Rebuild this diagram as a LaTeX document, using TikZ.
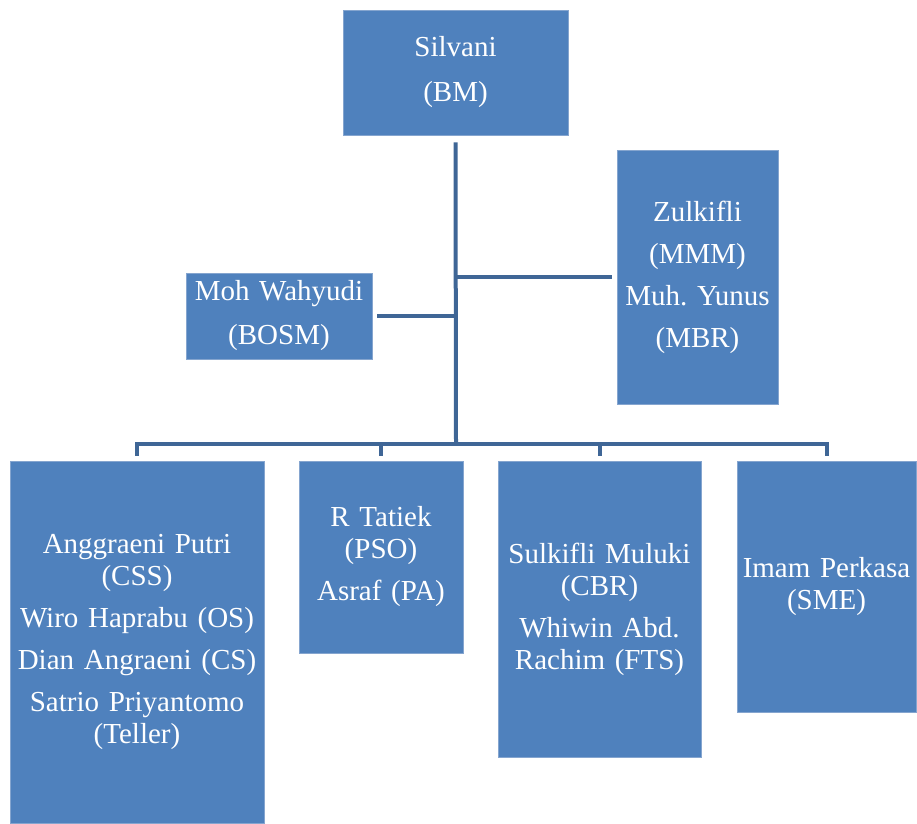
\documentclass[tikz,border=0pt]{standalone}
\usepackage{fontspec}
\setmainfont{Liberation Serif}
\frenchspacing
\definecolor{boxfill}{HTML}{4F81BD}
\definecolor{boxline}{HTML}{85A5CF}
\definecolor{conn}{HTML}{3F6696}
\begin{document}
\begin{tikzpicture}[x=1pt,y=1pt,
  box/.style={draw=boxline, line width=0.8pt, fill=boxfill, text=white,
    font=\fontsize{29}{32}\selectfont\frenchspacing, align=center, inner sep=0pt},
  link/.style={draw=conn, line width=4pt}]
\useasboundingbox (0,0) rectangle (917,823);
\node[box, minimum width=225, minimum height=125, text width=220] (boss) at (455.5,750.5) {Silvani\\[13pt](BM)};
\node[box, minimum width=161, minimum height=254, text width=156] (zul) at (697.5,546) {Zulkifli\\[10pt](MMM)\\[10pt]Muh. Yunus\\[10pt](MBR)};
\node[box, minimum width=186, minimum height=86, text width=182] (moh) at (279,507) {Moh Wahyudi\\[12pt](BOSM)};
\node[box, minimum width=254, minimum height=362, text width=250] (a) at (137,181) {Anggraeni Putri\\(CSS)\\[10pt]Wiro Haprabu (OS)\\[10pt]Dian Angraeni (CS)\\[10pt]Satrio Priyantomo\\(Teller)};
\node[box, minimum width=164, minimum height=192, text width=160] (b) at (381,266) {R Tatiek\\(PSO)\\[10pt]Asraf (PA)};
\node[box, minimum width=203, minimum height=296, text width=199] (c) at (599.5,214) {Sulkifli Muluki\\(CBR)\\[10pt]Whiwin Abd.\\Rachim (FTS)};
\node[box, minimum width=179, minimum height=251, text width=175] (d) at (826.5,236.5) {Imam Perkasa\\(SME)};
\coordinate (trunk) at (456,379);
\draw[link] ([yshift=-7pt]boss.south) -- (trunk);
\draw[link] (trunk |- zul.west) -- ([xshift=-5pt]zul.west);
\draw[link] (trunk |- moh.east) -- ([xshift=5pt]moh.east);
\draw[link] ([yshift=5pt]a.north) -- (a.north |- trunk) -- (d.north |- trunk) -- ([yshift=5pt]d.north);
\draw[link] ([yshift=5pt]b.north) -- (b.north |- trunk);
\draw[link] ([yshift=5pt]c.north) -- (c.north |- trunk);
\end{tikzpicture}
\end{document}
